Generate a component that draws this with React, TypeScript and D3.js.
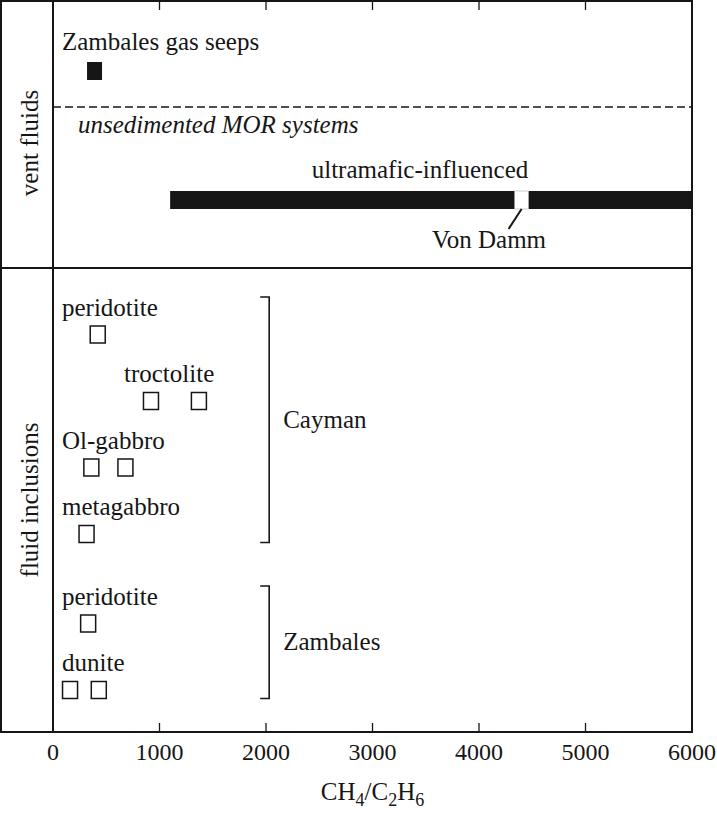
import React from 'react';
import * as d3 from 'd3';

// CH4/C2H6 ratios
const xTicks = [0, 1000, 2000, 3000, 4000, 5000, 6000];

const seepLabel = 'Zambales gas seeps';
const seepValues = [390];

const morLabel = 'unsedimented MOR systems';
const ultramaficLabel = 'ultramafic-influenced';
const ultramaficRange = [1100, 6000];
const vonDammLabel = 'Von Damm';
const vonDammValue = 4400;

const inclusionGroups = ['Cayman', 'Cayman', 'Cayman', 'Cayman', 'Zambales', 'Zambales'];
const inclusionLabels = ['peridotite', 'troctolite', 'Ol-gabbro', 'metagabbro', 'peridotite', 'dunite'];
const inclusionValues = [[420], [920, 1370], [360, 680], [315], [330], [160, 430]];
const bracketValue = 2030;

const FONT = '"Liberation Serif", "DejaVu Serif", serif';
const FS = 25;
const INK = '#161616';

const App = () => {
  const width = 717;
  const height = 814;
  const left = 53;
  const right = 692;
  const top = 1;
  const divider = 268;
  const bottom = 732;

  const x = d3.scaleLinear().domain([0, 6000]).range([left, right]);

  // row centres in the fluid-inclusion panel (small gap between groups)
  const rowY = (i: number) => 334.5 + i * 66.5 + (i >= 4 ? 23 : 0);
  const labelIndent: Record<number, number> = { 1: 124 };
  const boxW = 15;
  const boxH = 17;

  const groups = Array.from(new Set(inclusionGroups));

  return (
    <div style={{ position: 'absolute', left: 0, top: 0 }}>
      <svg width={width} height={height} style={{ display: 'block', background: '#fff' }} fontFamily={FONT}>
        {/* frame */}
        <g stroke={INK} strokeWidth={2} fill="none">
          <rect x={1} y={top} width={right - 1} height={bottom - top} />
          <line x1={left} x2={left} y1={top} y2={bottom} />
          <line x1={1} x2={right} y1={divider} y2={divider} />
        </g>

        {/* ticks top & bottom, pointing inward */}
        <g stroke={INK} strokeWidth={1.3}>
          {xTicks.slice(1, -1).map(t => (
            <g key={t}>
              <line x1={x(t)} x2={x(t)} y1={top} y2={top + 9} />
              <line x1={x(t)} x2={x(t)} y1={bottom} y2={bottom - 9} />
            </g>
          ))}
        </g>
        <g fontSize={24} textAnchor="middle" fill={INK}>
          {xTicks.map(t => (
            <text key={t} x={x(t)} y={760}>{t}</text>
          ))}
          <text x={(left + right) / 2} y={800} fontSize={FS}>
            CH<tspan dy={6} fontSize={18}>4</tspan>
            <tspan dy={-6}>/C</tspan>
            <tspan dy={6} fontSize={18}>2</tspan>
            <tspan dy={-6}>H</tspan>
            <tspan dy={6} fontSize={18}>6</tspan>
          </text>
        </g>

        {/* panel titles */}
        <g fontSize={FS} textAnchor="middle" fill={INK}>
          <text transform={`translate(38,143) rotate(-90)`}>vent fluids</text>
          <text transform={`translate(38,500) rotate(-90)`}>fluid inclusions</text>
        </g>

        {/* vent fluids */}
        <text x={62} y={50} fontSize={FS} fill={INK}>{seepLabel}</text>
        {seepValues.map((v, i) => (
          <rect key={i} x={x(v) - 7.5} y={62} width={15} height={18} fill={INK} />
        ))}
        <line x1={left} x2={right} y1={107} y2={107} stroke={INK} strokeWidth={1.5} strokeDasharray="8,4" />
        <text x={78} y={133} fontSize={FS} fontStyle="italic" fill={INK}>{morLabel}</text>

        <text x={420} y={178} fontSize={FS} textAnchor="middle" fill={INK}>{ultramaficLabel}</text>
        <rect
          x={x(ultramaficRange[0])}
          y={191}
          width={x(ultramaficRange[1]) - x(ultramaficRange[0])}
          height={18}
          fill={INK}
        />
        <rect x={x(vonDammValue) - 7} y={191} width={14} height={18} fill="#fff" stroke="#aaa" strokeWidth={0.6} />
        <line x1={x(vonDammValue)} y1={209} x2={x(vonDammValue) - 13} y2={229} stroke={INK} strokeWidth={2} />
        <text x={489} y={248} fontSize={FS} textAnchor="middle" fill={INK}>{vonDammLabel}</text>

        {/* fluid inclusions */}
        {inclusionLabels.map((lab, i) => {
          const cy = rowY(i);
          return (
            <g key={i}>
              <text x={labelIndent[i] ?? 62} y={cy - 19} fontSize={FS} fill={INK}>{lab}</text>
              {inclusionValues[i].map((v, j) => (
                <rect
                  key={j}
                  x={x(v) - boxW / 2}
                  y={cy - boxH / 2}
                  width={boxW}
                  height={boxH}
                  fill="none"
                  stroke={INK}
                  strokeWidth={1.5}
                />
              ))}
            </g>
          );
        })}

        {/* group brackets */}
        {groups.map(g => {
          const idx = inclusionGroups.map((d, i) => (d === g ? i : -1)).filter(i => i >= 0);
          const y0 = rowY(idx[0]) - 37.5;
          const y1 = rowY(idx[idx.length - 1]) + 8.5;
          const bx = x(bracketValue);
          return (
            <g key={g}>
              <path
                d={`M${bx - 9},${y0}H${bx}V${y1}H${bx - 9}`}
                fill="none"
                stroke={INK}
                strokeWidth={1.6}
              />
              <text x={bx + 14} y={(y0 + y1) / 2 + 8} fontSize={FS} fill={INK}>{g}</text>
            </g>
          );
        })}
      </svg>
    </div>
  );
};

export default App;
